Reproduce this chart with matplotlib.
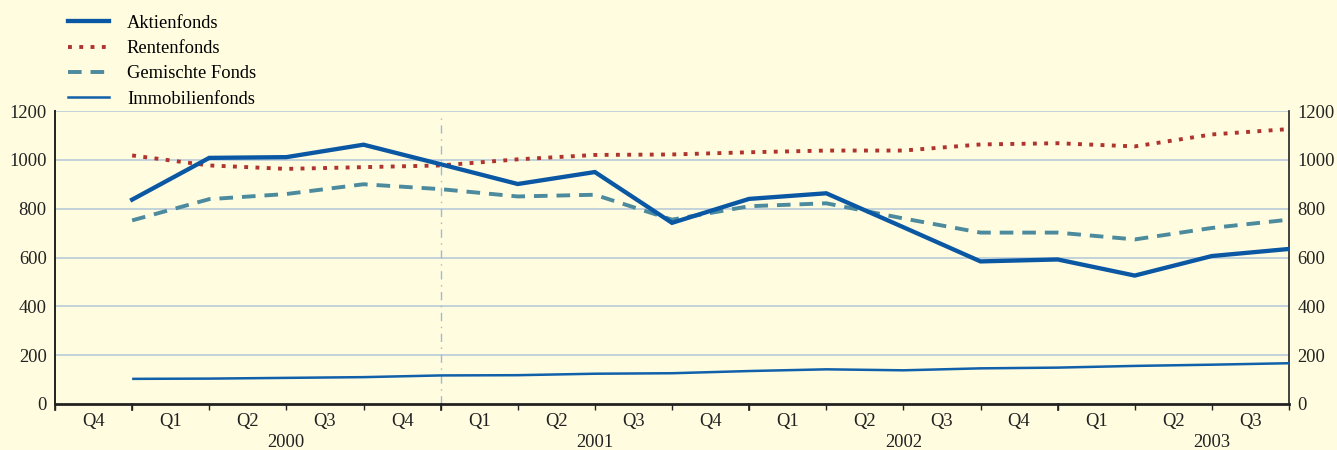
import matplotlib
matplotlib.use("Agg")
import matplotlib.pyplot as plt
from matplotlib.lines import Line2D

# ---- data ----
quarter_labels = ["Q4", "Q1", "Q2", "Q3", "Q4", "Q1", "Q2", "Q3", "Q4",
                  "Q1", "Q2", "Q3", "Q4", "Q1", "Q2", "Q3"]
year_labels = ["2000", "2001", "2002", "2003"]
series_names = ["Aktienfonds", "Rentenfonds", "Gemischte Fonds", "Immobilienfonds"]

aktien = [837, 1008, 1011, 1062, 982, 901, 950, 742, 840, 863, 724, 584, 592, 526, 606, 635]
renten = [1018, 977, 963, 970, 977, 1002, 1020, 1022, 1031, 1038, 1038, 1063, 1068, 1055, 1104, 1126]
gemischt = [752, 839, 860, 900, 880, 850, 857, 755, 810, 822, 760, 702, 702, 674, 721, 755]
immobilien = [103, 104, 107, 110, 117, 118, 124, 126, 135, 142, 138, 146, 149, 156, 161, 167]

bg = "#FFFCDF"
c_akt = "#0A57A4"
c_ren = "#B0342E"
c_gem = "#4C8A9E"
c_imm = "#1160AA"
grid_c = "#B3C6D9"
fs = 13.3

plt.rcParams["font.family"] = ["Liberation Serif", "DejaVu Serif"]

fig = plt.figure(figsize=(13.37, 4.5), dpi=100, facecolor=bg)
ax = fig.add_axes([55/1337, 1-404/450, (1289-55)/1337, (404-111)/450])
ax.set_facecolor(bg)

dot_style = (0, (1, 1.9))
dash_style = (0, (3.5, 2.3))

x = list(range(1, len(aktien) + 1))
ax.plot(x, immobilien, color=c_imm, lw=1.8, solid_capstyle="butt", zorder=3)
ax.plot(x, gemischt, color=c_gem, lw=2.8, linestyle=dash_style, zorder=3)
ax.plot(x, renten, color=c_ren, lw=2.8, linestyle=dot_style, zorder=4)
ax.plot(x, aktien, color=c_akt, lw=3.1, solid_joinstyle="miter", zorder=5)

ax.set_xlim(0, 16)
ax.set_ylim(0, 1200)
ax.set_yticks(range(0, 1201, 200))
for v in range(200, 1201, 200):
    ax.axhline(v, color=grid_c, lw=1.1, zorder=1)
ax.axvline(5, ymax=0.975, color="#9FB8DC", lw=1.0, linestyle=(0, (6, 4, 1, 4)), zorder=1)

ax.spines["top"].set_visible(False)
for s in ["left", "right", "bottom"]:
    ax.spines[s].set_color("#222222")
ax.spines["left"].set_linewidth(1.4)
ax.spines["right"].set_linewidth(1.2)
ax.spines["bottom"].set_linewidth(2.0)

ax.tick_params(axis="y", which="both", length=0, labelsize=fs, pad=6,
               labelleft=True, labelright=True, colors="#222222")

# x ticks: short marks at quarter boundaries, long at year boundaries
ax.set_xticks(range(0, 17))
ax.set_xticklabels([])
ax.tick_params(axis="x", which="major", length=4, width=1, color="#222222")
long_ticks = [0, 1, 5, 9, 13]
for t in long_ticks:
    ax.plot([t, t], [0, -0.022], transform=ax.get_xaxis_transform(),
            color="#222222", lw=1.2, clip_on=False)

trans = ax.get_xaxis_transform()
for i, lab in enumerate(quarter_labels):
    ax.text(i + 0.5, -0.03, lab, transform=trans, ha="center", va="top",
            fontsize=fs, color="#222222")
for j, lab in enumerate(year_labels):
    ax.text(3 + 4 * j, -0.102, lab, transform=trans, ha="center", va="top",
            fontsize=fs, color="#222222")

handles = [
    Line2D([], [], color=c_akt, lw=3.1),
    Line2D([], [], color=c_ren, lw=2.8, linestyle=dot_style),
    Line2D([], [], color=c_gem, lw=2.8, linestyle=dash_style),
    Line2D([], [], color=c_imm, lw=1.8),
]
fig.legend(handles, series_names, loc="upper left", bbox_to_anchor=(64/1337, 1-11/450),
           frameon=False, fontsize=fs, handlelength=2.25, handletextpad=0.95,
           labelspacing=0.45, borderaxespad=0, borderpad=0.2)

fig.savefig("out.png", dpi=100, facecolor=bg)
